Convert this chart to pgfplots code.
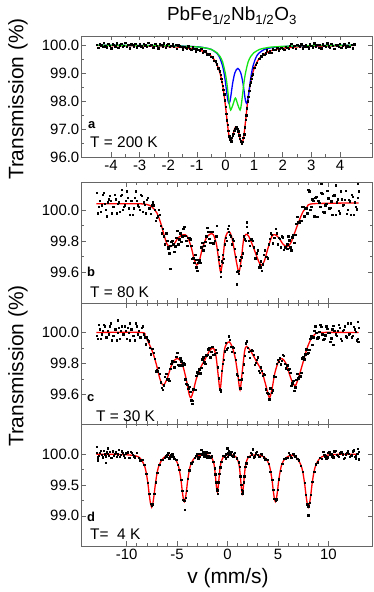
\documentclass[border=0pt]{standalone}
\usepackage{fontspec}
\setmainfont{Liberation Sans}
\usepackage{pgfplots}
\usepackage{pgfplotstable}
\pgfplotsset{compat=1.18}

\definecolor{framegray}{gray}{0.40}
\definecolor{fitred}{RGB}{255,0,0}
\definecolor{fitblue}{RGB}{0,0,255}
\definecolor{fitgreen}{RGB}{20,230,20}

\pgfplotstableread{
x y
-4.50 100.02
-4.45 99.91
-4.40 100.04
-4.35 100.00
-4.30 99.95
-4.25 100.08
-4.20 99.97
-4.15 99.93
-4.10 100.06
-4.05 99.99
-4.00 99.89
-3.95 100.03
-3.90 100.01
-3.85 99.96
-3.80 100.07
-3.75 99.92
-3.70 100.00
-3.65 100.05
-3.60 99.94
-3.55 99.98
-3.50 100.09
-3.45 99.95
-3.40 100.02
-3.35 99.90
-3.30 100.04
-3.25 100.01
-3.20 99.97
-3.15 100.06
-3.10 99.93
-3.05 99.99
-3.00 100.03
-2.95 99.96
-2.90 99.91
-2.85 100.05
-2.80 100.00
-2.75 99.94
-2.70 100.08
-2.65 99.98
-2.60 100.02
-2.55 99.92
-2.50 99.93
-2.45 100.06
-2.40 99.99
-2.35 99.89
-2.30 100.03
-2.25 100.01
-2.20 99.96
-2.15 100.07
-2.10 99.92
-2.05 100.00
-2.00 100.05
-1.95 99.94
-1.90 99.98
-1.85 100.03
-1.80 99.95
-1.75 100.02
-1.70 99.88
-1.65 100.00
-1.60 99.96
-1.55 99.95
-1.50 99.86
-1.45 99.955
-1.40 99.92
-1.35 99.87
-1.30 99.97
-1.25 99.88
-1.20 99.84
-1.15 99.93
-1.10 99.87
-1.05 99.78
-1.00 99.88
-0.95 99.85
-0.90 99.80
-0.85 99.87
-0.80 99.73
-0.75 99.78
-0.70 99.79
-0.65 99.68
-0.60 99.68
-0.55 99.70
-0.50 99.59
-0.45 99.57
-0.40 99.445
-0.35 99.435
-0.30 99.32
-0.25 99.18
-0.20 99.065
-0.175 98.95
-0.15 98.80
-0.125 98.69
-0.10 98.56
-0.075 98.40
-0.05 98.25
-0.025 98.03
0.00 97.795
0.025 97.55
0.05 97.31
0.075 97.16
0.10 96.94
0.125 96.75
0.15 96.63
0.175 96.60
0.20 96.565
0.225 96.68
0.25 96.785
0.275 96.83
0.30 96.945
0.325 97.02
0.35 97.085
0.375 97.06
0.40 97.025
0.425 96.99
0.45 96.925
0.475 96.78
0.50 96.65
0.525 96.57
0.55 96.545
0.575 96.49
0.60 96.555
0.625 96.69
0.65 96.81
0.675 97.06
0.70 97.325
0.725 97.49
0.75 97.75
0.775 97.99
0.80 98.16
0.825 98.37
0.85 98.57
0.875 98.67
0.90 98.80
0.925 98.91
0.95 98.96
1.00 99.19
1.05 99.31
1.10 99.385
1.15 99.52
1.20 99.515
1.25 99.605
1.30 99.676
1.35 99.66
1.40 99.71
1.45 99.82
1.50 99.73
1.55 99.81
1.60 99.73
1.65 99.86
1.70 99.85
1.75 99.83
1.80 99.91
1.85 99.82
1.90 99.875
1.95 99.91
2.00 99.87
2.05 99.83
2.10 99.95
2.15 99.91
2.20 99.87
2.25 99.99
2.30 100.06
2.35 99.92
2.40 99.99
2.45 99.87
2.50 100.01
2.55 99.98
2.60 99.94
2.65 100.03
2.70 99.90
2.75 99.96
2.80 100.02
2.85 99.95
2.90 99.90
2.95 100.04
3.00 99.99
3.05 99.93
3.10 100.07
3.15 99.97
3.20 100.01
3.25 99.91
3.30 100.01
3.35 99.90
3.40 100.03
3.45 99.99
3.50 99.94
3.55 100.07
3.60 99.96
3.65 99.92
3.70 100.05
3.75 99.98
3.80 99.88
3.85 100.02
3.90 100.00
3.95 99.95
4.00 100.06
4.05 99.91
4.10 99.99
4.15 100.04
4.20 99.93
4.25 99.97
4.30 100.08
4.35 99.94
4.40 100.01
4.45 99.89
4.50 100.03
}\dataA

\pgfplotstableread{
x y
-13.0 100.11
-12.8 100.02
-12.6 99.99
-12.4 100.10
-12.2 100.04
-12.0 99.96
-11.8 100.07
-11.6 100.06
-11.4 100.02
-11.2 100.10
-11.0 99.98
-10.8 100.05
-10.6 100.09
-10.5 100.13
-10.4 100.00
-10.2 100.03
-10.0 100.12
-9.8 100.01
-9.6 100.06
-9.4 99.97
-9.2 100.08
-9.0 100.06
-8.8 100.02
-8.6 100.10
-8.4 99.99
-8.2 100.035
-8.0 100.065
-7.8 100.01
-7.6 99.975
-7.4 100.05
-7.2 100.00
-7.0 99.95
-6.8 100.00
-6.6 99.90
-6.4 99.88
-6.2 99.78
-6.0 99.80
-5.9 99.76
-5.8 99.72
-5.7 99.62
-5.6 99.795
-5.4 99.78
-5.2 99.765
-5.0 99.865
-4.8 99.81
-4.6 99.795
-4.4 99.88
-4.2 99.835
-4.0 99.77
-3.8 99.82
-3.6 99.77
-3.4 99.69
-3.2 99.71
-3.1 99.63
-3.0 99.61
-2.8 99.675
-2.6 99.76
-2.4 99.74
-2.2 99.795
-2.0 99.885
-1.8 99.815
-1.6 99.86
-1.4 99.785
-1.2 99.83
-1.1 99.90
-1.0 99.745
-0.9 99.70
-0.8 99.64
-0.7 99.60
-0.6 99.67
-0.5 99.66
-0.4 99.685
-0.2 99.82
0.0 99.88
0.1 99.86
0.2 99.84
0.4 99.78
0.6 99.80
0.8 99.70
0.9 99.52
1.0 99.605
1.1 99.59
1.2 99.675
1.3 99.64
1.4 99.695
1.6 99.83
1.8 99.80
1.9 99.92
2.0 99.855
2.2 99.77
2.4 99.815
2.6 99.76
2.8 99.69
3.0 99.74
3.2 99.645
3.3 99.63
3.4 99.61
3.6 99.71
3.8 99.70
4.0 99.69
4.2 99.815
4.4 99.84
4.6 99.82
4.8 99.88
5.0 99.78
5.2 99.815
5.4 99.83
5.6 99.745
5.8 99.76
5.9 99.75
6.0 99.83
6.2 99.76
6.4 99.825
6.6 99.79
6.8 99.91
7.0 99.925
7.2 99.93
7.4 100.02
7.6 99.96
7.8 100.01
8.0 100.13
8.2 100.00
8.4 100.07
8.6 99.96
8.8 100.085
9.0 100.06
9.2 100.02
9.3 100.17
9.4 100.105
9.6 99.985
9.8 100.04
10.0 100.075
10.2 100.015
10.4 99.97
10.6 100.095
10.7 100.16
10.8 100.05
11.0 99.995
11.2 100.12
11.4 100.03
11.6 100.065
11.8 99.977
12.0 100.067
12.2 99.968
12.4 100.085
12.6 100.05
12.8 100.004
12.9 100.17
13.0 100.12
-12.9 99.98
-12.7 100.06
-12.5 100.03
-12.3 100.11
-12.1 100.00
-11.9 100.05
-11.7 100.09
-11.5 99.98
-11.3 100.02
-11.1 100.07
-10.9 100.04
-10.7 99.99
-10.5 100.10
-10.3 100.02
-10.1 100.06
-9.9 100.08
-9.7 99.97
-9.5 100.06
-9.3 100.01
-9.1 100.12
-8.9 100.03
-8.7 100.00
-8.5 100.09
-8.3 100.05
-8.1 99.98
-7.9 100.08
-7.7 100.01
-7.5 100.03
-7.3 100.03
-7.1 99.93
-6.9 99.96
-6.7 99.97
-6.5 99.85
-6.3 99.83
-6.1 99.85
-5.9 99.75
-5.7 99.77
-5.5 99.80
-5.3 99.73
-5.1 99.82
-4.9 99.78
-4.7 99.85
-4.5 99.83
-4.3 99.89
-4.1 99.80
-3.9 99.82
-3.7 99.81
-3.5 99.685
-3.3 99.66
-3.1 99.68
-2.9 99.66
-2.7 99.66
-2.5 99.79
-2.3 99.77
-2.1 99.83
-1.9 99.86
-1.7 99.79
-1.5 99.86
-1.3 99.80
-1.1 99.83
-0.9 99.68
-0.7 99.57
-0.5 99.71
-0.3 99.78
-0.1 99.80
0.1 99.90
0.3 99.83
0.5 99.81
0.7 99.75
0.9 99.60
1.1 99.61
1.3 99.70
1.5 99.72
1.7 99.81
1.9 99.89
2.1 99.80
2.3 99.81
2.5 99.80
2.7 99.69
2.9 99.72
3.1 99.63
3.3 99.67
3.5 99.65
3.7 99.74
3.9 99.70
4.1 99.78
4.3 99.85
4.5 99.785
4.7 99.82
4.9 99.85
5.1 99.82
5.3 99.76
5.5 99.825
5.7 99.76
5.9 99.78
6.1 99.805
6.3 99.74
6.5 99.84
6.7 99.84
6.9 99.955
7.1 99.92
7.3 99.93
7.5 100.02
7.7 100.01
7.9 99.98
8.1 100.12
8.3 100.02
8.5 100.06
8.7 100.08
8.9 99.955
9.1 100.045
9.3 100.11
9.5 99.99
9.7 100.03
9.9 100.125
10.1 100.01
10.3 100.055
10.5 100.09
10.7 99.97
10.9 100.07
11.1 99.98
11.3 100.07
11.5 100.035
11.7 100.125
11.9 100.00
12.1 100.055
12.3 100.10
12.5 99.97
12.7 100.02
12.9 100.08
}\dataB

\pgfplotstableread{
x y
-13.0 99.98
-12.8 100.05
-12.6 99.96
-12.4 100.01
-12.2 100.04
-12.0 99.97
-11.8 99.99
-11.6 100.06
-11.4 99.98
-11.2 100.02
-11.0 99.95
-10.9 100.08
-10.8 100.03
-10.6 100.01
-10.4 99.99
-10.2 100.04
-10.0 99.96
-9.8 100.00
-9.7 100.06
-9.6 100.02
-9.4 99.98
-9.2 99.95
-9.0 100.04
-8.8 100.01
-8.6 99.97
-8.4 100.04
-8.2 99.97
-8.0 99.97
-7.8 99.945
-7.6 99.86
-7.4 99.895
-7.2 99.83
-7.0 99.76
-6.8 99.772
-6.6 99.68
-6.4 99.633
-6.2 99.715
-6.0 99.70
-5.8 99.69
-5.6 99.80
-5.4 99.81
-5.2 99.81
-5.0 99.868
-4.8 99.79
-4.6 99.815
-4.4 99.805
-4.2 99.70
-4.0 99.662
-3.8 99.65
-3.6 99.563
-3.5 99.54
-3.4 99.635
-3.2 99.63
-3.0 99.745
-2.8 99.762
-2.6 99.772
-2.4 99.841
-2.2 99.80
-2.0 99.855
-1.8 99.90
-1.6 99.875
-1.4 99.858
-1.2 99.89
-1.0 99.775
-0.8 99.635
-0.7 99.62
-0.6 99.755
-0.4 99.825
-0.2 99.935
0.0 99.90
0.2 99.953
0.4 99.875
0.6 99.90
0.8 99.825
1.0 99.72
1.2 99.695
1.25 99.64
1.4 99.70
1.6 99.795
1.8 99.93
2.0 99.903
2.2 99.838
2.4 99.888
2.6 99.855
2.8 99.805
3.0 99.84
3.2 99.739
3.4 99.755
3.6 99.735
3.8 99.635
4.0 99.609
4.15 99.57
4.2 99.64
4.4 99.61
4.6 99.718
4.8 99.715
5.0 99.825
5.2 99.833
5.4 99.819
5.6 99.852
5.8 99.77
6.0 99.76
6.2 99.74
6.4 99.672
6.6 99.626
6.8 99.697
7.0 99.705
7.2 99.718
7.4 99.835
7.6 99.828
7.8 99.893
8.0 99.87
8.2 99.96
8.4 99.92
8.6 100.01
8.8 100.00
9.0 99.97
9.2 100.05
9.4 99.99
9.6 99.96
9.8 100.04
10.0 100.00
10.2 99.94
10.4 100.02
10.5 99.92
10.6 100.01
10.8 99.98
11.0 100.05
11.2 99.96
11.4 100.01
11.6 100.04
11.8 99.97
12.0 99.99
12.2 100.06
12.4 99.98
12.6 100.02
12.8 99.95
12.9 100.07
12.95 99.94
13.0 100.03
-12.9 99.96
-12.7 100.02
-12.5 99.99
-12.3 100.05
-12.1 99.97
-11.9 100.01
-11.7 100.04
-11.5 99.95
-11.3 99.98
-11.1 100.02
-10.9 100.00
-10.7 99.96
-10.5 100.04
-10.3 99.99
-10.1 100.01
-9.9 100.03
-9.7 99.95
-9.5 100.02
-9.3 99.98
-9.1 100.06
-8.9 99.99
-8.7 99.97
-8.5 100.03
-8.3 99.99
-8.1 99.925
-7.9 99.955
-7.7 99.90
-7.5 99.895
-7.3 99.868
-7.1 99.75
-6.9 99.75
-6.7 99.735
-6.5 99.645
-6.3 99.66
-6.1 99.735
-5.9 99.70
-5.7 99.765
-5.5 99.815
-5.3 99.775
-5.1 99.842
-4.9 99.793
-4.7 99.833
-4.5 99.788
-4.3 99.795
-4.1 99.671
-3.9 99.638
-3.7 99.62
-3.5 99.56
-3.3 99.633
-3.1 99.72
-2.9 99.736
-2.7 99.737
-2.5 99.829
-2.3 99.808
-2.1 99.853
-1.9 99.893
-1.7 99.84
-1.5 99.909
-1.3 99.86
-1.1 99.87
-0.9 99.705
-0.7 99.63
-0.5 99.80
-0.3 99.88
-0.1 99.893
0.1 99.977
0.3 99.91
0.5 99.905
0.7 99.87
0.9 99.73
1.1 99.695
1.3 99.695
1.5 99.74
1.7 99.85
1.9 99.945
2.1 99.875
2.3 99.883
2.5 99.882
2.7 99.793
2.9 99.825
3.1 99.752
3.3 99.777
3.5 99.723
3.7 99.728
3.9 99.612
4.1 99.605
4.3 99.64
4.5 99.627
4.7 99.715
4.9 99.80
5.1 99.812
5.3 99.796
5.5 99.858
5.7 99.798
5.9 99.79
6.1 99.765
6.3 99.658
6.5 99.691
6.7 99.646
6.9 99.733
7.1 99.715
7.3 99.742
7.5 99.84
7.7 99.86
7.9 99.865
8.1 99.89
8.3 99.975
8.5 99.97
8.7 100.04
8.9 99.964
9.1 100.006
9.3 100.036
9.5 99.952
9.7 99.982
9.9 100.024
10.1 100.00
10.3 99.964
10.5 100.042
10.7 99.988
10.9 100.012
11.1 100.03
11.3 99.946
11.5 100.018
11.7 99.976
11.9 100.06
12.1 99.994
12.3 99.97
12.5 100.036
12.7 100.006
12.9 99.958
}\dataC

\pgfplotstableread{
x y
-13.0 100.02
-13.0 100.12
-12.9 99.90
-12.8 99.98
-12.6 100.06
-12.4 99.95
-12.2 100.00
-12.1 99.86
-12.0 100.03
-11.9 100.10
-11.8 99.98
-11.6 99.94
-11.4 100.05
-11.2 100.01
-11.0 99.96
-10.8 100.07
-10.6 99.99
-10.4 100.02
-10.2 99.94
-10.0 100.02
-9.8 99.94
-9.6 100.04
-9.4 99.99
-9.2 99.95
-9.0 100.02
-8.8 99.945
-8.64 99.90
-8.45 99.915
-8.27 99.83
-8.08 99.686
-7.895 99.54
-7.77 99.36
-7.645 99.20
-7.52 99.165
-7.395 99.19
-7.27 99.358
-7.145 99.545
-6.96 99.70
-6.77 99.825
-6.58 99.91
-6.40 99.91
-6.2 99.94
-6.0 99.995
-5.8 99.935
-5.6 99.99
-5.4 99.96
-5.28 99.93
-5.10 99.91
-4.94 99.83
-4.78 99.746
-4.61 99.59
-4.50 99.41
-4.39 99.266
-4.28 99.25
-4.25 99.10
-4.17 99.293
-4.06 99.405
-3.95 99.60
-3.78 99.743
-3.62 99.855
-3.45 99.88
-3.28 99.947
-3.1 99.975
-2.9 99.935
-2.7 100.005
-2.6 100.07
-2.5 99.995
-2.3 99.97
-2.1 100.03
-1.9 99.97
-1.70 99.95
-1.595 99.97
-1.40 99.878
-1.30 99.774
-1.21 99.675
-1.14 99.548
-1.075 99.431
-1.01 99.41
-1.00 99.36
-0.945 99.421
-0.88 99.545
-0.81 99.68
-0.72 99.786
-0.62 99.875
-0.425 99.976
-0.30 99.96
-0.15 99.937
-0.05 100.10
0.05 100.015
0.10 100.06
0.25 100.00
0.45 99.975
0.62 99.999
0.885 99.934
1.08 99.872
1.18 99.80
1.27 99.64
1.34 99.50
1.405 99.426
1.47 99.363
1.535 99.40
1.60 99.543
1.67 99.645
1.76 99.797
1.86 99.854
2.055 99.957
2.20 99.955
2.4 100.00
2.5 100.08
2.6 99.948
2.8 100.015
3.0 99.995
3.2 99.96
3.40 99.999
3.58 99.949
3.75 99.92
3.92 99.911
4.09 99.846
4.25 99.716
4.42 99.588
4.53 99.426
4.64 99.281
4.75 99.254
4.86 99.269
4.97 99.423
5.08 99.594
5.25 99.731
5.41 99.843
5.58 99.93
5.75 99.938
5.95 99.94
6.15 99.99
6.35 99.94
6.55 100.00
6.75 99.965
6.90 99.925
7.08 99.90
7.27 99.81
7.46 99.716
7.645 99.539
7.77 99.346
7.895 99.186
8.00 99.01
8.02 99.158
8.145 99.213
8.27 99.34
8.395 99.554
8.58 99.713
8.77 99.837
8.95 99.869
9.14 99.94
9.35 99.93
9.6 99.99
9.8 99.93
10.0 100.02
10.2 100.00
10.4 99.97
10.6 100.05
10.8 99.99
11.0 99.96
11.2 100.04
11.4 100.00
11.6 99.94
11.8 100.02
12.0 100.01
12.2 99.98
12.4 100.05
12.6 99.96
12.7 99.93
12.8 100.01
12.9 100.09
13.0 100.04
13.0 99.92
-12.9 99.95
-12.7 100.02
-12.5 99.99
-12.3 100.06
-12.1 99.965
-11.9 100.01
-11.7 100.04
-11.5 99.945
-11.3 99.98
-11.1 100.03
-10.9 100.00
-10.7 99.96
-10.5 100.05
-10.3 99.985
-10.1 100.015
-9.9 100.035
-9.7 99.94
-9.5 100.02
-9.3 99.97
-6.1 99.97
-5.9 100.02
-5.7 99.96
-5.5 100.00
-3.0 100.01
-2.8 99.96
-2.4 100.03
-2.2 99.99
-2.0 99.95
-1.8 100.02
-0.2 100.00
0.0 99.96
0.15 99.99
0.35 100.04
0.55 99.96
0.7 100.02
2.3 100.02
2.7 99.97
2.9 100.04
3.1 99.96
3.3 100.01
6.05 100.02
6.25 99.95
6.45 100.01
6.65 99.96
9.5 100.04
9.7 99.97
9.9 99.95
10.1 100.03
10.3 100.00
10.5 99.95
10.7 100.055
10.9 99.98
11.1 100.015
11.3 100.03
11.5 99.93
11.7 100.00
11.9 100.05
12.1 99.96
12.3 99.985
12.5 100.065
12.7 99.97
12.9 100.01
}\dataD

\pgfplotsset{
  moss/.style={
    scale only axis, width=291bp, anchor=south west,
    axis line style={framegray, line width=0.8bp},
    every tick/.style={framegray, line width=0.6bp},
    tick align=inside, major tick length=4.5bp, minor tick length=2.5bp,
    tick label style={font=\fontsize{15}{15}\selectfont, text=black},
    /pgf/number format/assume math mode=true,
    yticklabel style={inner xsep=1.5bp,
      /pgf/number format/fixed, /pgf/number format/fixed zerofill,
      /pgf/number format/precision=1},
    xticklabel style={inner ysep=3bp},
    minor y tick num=1,
  },
  pts/.style={only marks, mark=square*, mark size=0.7bp, black},
  fit/.style={line width=1.3bp, smooth, tension=0.5},
}

\begin{document}
\begin{tikzpicture}
% panel a
\begin{axis}[moss, at={(81bp,435bp)}, height=121bp,
  xmin=-5.05, xmax=5.12, ymin=96, ymax=100.33,
  xtick={-4,-3,-2,-1,0,1,2,3,4}, minor x tick num=1,
  ytick={96,97,98,99,100}]
\addplot[pts] table {\dataA};
\addplot[fit, fitred] coordinates {(-4.5,99.99) (-3,99.976) (-2,99.95) (-1.5,99.92) (-1,99.85) (-0.8,99.789) (-0.6,99.687) (-0.5,99.606) (-0.4,99.49) (-0.3,99.31) (-0.25,99.188) (-0.2,99.03) (-0.15,98.826) (-0.1,98.56) (-0.05,98.23) (0,97.81) (0.05,97.35) (0.1,96.91) (0.15,96.626) (0.2,96.59) (0.25,96.74) (0.3,96.95) (0.35,97.07) (0.4,97.06) (0.45,96.91) (0.5,96.69) (0.55,96.52) (0.6,96.55) (0.65,96.83) (0.7,97.28) (0.75,97.76) (0.8,98.19) (0.85,98.53) (0.9,98.80) (0.95,99.01) (1.0,99.17) (1.1,99.40) (1.2,99.55) (1.3,99.646) (1.4,99.715) (1.6,99.805) (1.8,99.858) (2,99.89) (2.5,99.94) (3,99.96) (4.5,99.99)};
\addplot[fit, fitblue] coordinates {(-4.5,100) (-2,99.98) (-1,99.945) (-0.7,99.90) (-0.5,99.85) (-0.3,99.71) (-0.2,99.55) (-0.1,99.25) (-0.05,99.00) (0,98.66) (0.05,98.25) (0.085,98.02) (0.12,97.92) (0.155,97.99) (0.19,98.20) (0.25,98.64) (0.33,99.02) (0.43,99.17) (0.53,99.02) (0.61,98.64) (0.67,98.20) (0.705,97.99) (0.74,97.92) (0.775,98.02) (0.81,98.25) (0.86,98.66) (0.91,99.00) (0.96,99.25) (1.06,99.55) (1.16,99.71) (1.36,99.85) (1.56,99.90) (1.86,99.945) (2.86,99.98) (4.5,100)};
\addplot[fit, fitgreen] coordinates {(-4.5,100) (-2,99.98) (-1,99.94) (-0.7,99.90) (-0.5,99.85) (-0.3,99.73) (-0.2,99.61) (-0.1,99.40) (0,98.96) (0.05,98.62) (0.1,98.18) (0.14,97.86) (0.18,97.68) (0.26,97.87) (0.345,98.11) (0.43,97.87) (0.51,97.68) (0.55,97.86) (0.59,98.18) (0.64,98.62) (0.69,98.96) (0.79,99.40) (0.89,99.61) (0.99,99.73) (1.19,99.85) (1.39,99.90) (1.69,99.94) (2.69,99.98) (4.5,100)};
\end{axis}
% panel b
\begin{axis}[moss, at={(81bp,289bp)}, height=121bp,
  xmin=-14.53, xmax=14.33, ymin=99.40, ymax=100.18,
  xtick={-10,-5,0,5,10}, xticklabels={}, minor x tick num=4,
  ytick={99.6,99.8,100}]
\addplot[pts] table {\dataB};
\addplot[fit, fitred] coordinates {(-13,100.04) (-9,100.04) (-8,100.035) (-7.5,100.02) (-7,99.98) (-6.6,99.91) (-6.3,99.84) (-6.0,99.78) (-5.7,99.763) (-5.3,99.78) (-4.9,99.82) (-4.4,99.84) (-4.0,99.83) (-3.6,99.76) (-3.3,99.68) (-3.06,99.645) (-2.8,99.67) (-2.5,99.75) (-2.1,99.82) (-1.7,99.845) (-1.4,99.84) (-1.1,99.78) (-0.9,99.69) (-0.68,99.60) (-0.45,99.69) (-0.25,99.81) (0.0,99.855) (0.18,99.86) (0.4,99.83) (0.65,99.75) (0.9,99.66) (1.14,99.60) (1.38,99.69) (1.6,99.81) (1.84,99.843) (2.1,99.83) (2.5,99.77) (2.9,99.70) (3.15,99.66) (3.39,99.645) (3.65,99.67) (4.0,99.75) (4.4,99.83) (4.71,99.84) (5.1,99.82) (5.5,99.78) (5.93,99.763) (6.3,99.79) (6.7,99.86) (7.1,99.93) (7.5,99.99) (7.9,100.02) (8.5,100.04) (13,100.045)};
\end{axis}
% panel c
\begin{axis}[moss, at={(81bp,168bp)}, height=121bp,
  xmin=-14.53, xmax=14.33, ymin=99.41, ymax=100.19,
  xtick={-10,-5,0,5,10}, xticklabels={}, minor x tick num=4,
  ytick={99.6,99.8,100}]
\addplot[pts] table {\dataC};
\addplot[fit, fitred] coordinates {(-13,100.0) (-8.6,100.0) (-8.2,99.98) (-7.8,99.93) (-7.4,99.87) (-7.0,99.78) (-6.7,99.70) (-6.37,99.66) (-6.0,99.70) (-5.6,99.78) (-5.2,99.825) (-4.88,99.83) (-4.5,99.80) (-4.1,99.70) (-3.8,99.60) (-3.62,99.58) (-3.4,99.62) (-3.1,99.70) (-2.7,99.77) (-2.2,99.83) (-1.8,99.88) (-1.41,99.90) (-1.15,99.85) (-0.95,99.74) (-0.74,99.63) (-0.55,99.74) (-0.3,99.89) (0.0,99.935) (0.18,99.94) (0.45,99.91) (0.75,99.84) (1.0,99.74) (1.24,99.63) (1.45,99.74) (1.7,99.88) (1.9,99.91) (2.3,99.88) (2.9,99.81) (3.4,99.75) (3.8,99.66) (4.15,99.58) (4.4,99.63) (4.7,99.74) (5.1,99.82) (5.44,99.83) (5.8,99.80) (6.2,99.72) (6.5,99.67) (6.76,99.66) (7.1,99.72) (7.5,99.81) (7.9,99.90) (8.3,99.96) (8.7,99.99) (9.2,100.0) (13,100.0)};
\end{axis}
% panel d
\begin{axis}[moss, at={(81bp,46bp)}, height=122bp,
  xmin=-14.53, xmax=14.33, ymin=98.51, ymax=100.49,
  xtick={-10,-5,0,5,10}, minor x tick num=4,
  ytick={99,99.5,100}]
\addplot[pts] table {\dataD};
\addplot[fit, fitred] coordinates {(-13,100.0) (-10.5,99.995) (-9.12,99.974) (-8.64,99.931) (-8.27,99.828) (-8.08,99.716) (-7.895,99.527) (-7.77,99.355) (-7.645,99.21) (-7.52,99.14) (-7.395,99.21) (-7.27,99.355) (-7.145,99.527) (-6.96,99.716) (-6.77,99.828) (-6.40,99.931) (-5.9,99.985) (-5.28,99.938) (-4.94,99.846) (-4.78,99.746) (-4.61,99.576) (-4.50,99.42) (-4.39,99.29) (-4.28,99.23) (-4.17,99.29) (-4.06,99.42) (-3.95,99.576) (-3.78,99.746) (-3.62,99.846) (-3.28,99.938) (-2.85,99.977) (-2.4,99.99) (-1.86,99.982) (-1.595,99.951) (-1.40,99.878) (-1.30,99.799) (-1.21,99.6645) (-1.14,99.5425) (-1.075,99.439) (-1.01,99.39) (-0.945,99.439) (-0.88,99.5425) (-0.81,99.6645) (-0.72,99.799) (-0.62,99.878) (-0.425,99.951) (-0.16,99.982) (0.23,99.99) (0.62,99.981) (0.885,99.949) (1.08,99.872) (1.18,99.789) (1.27,99.648) (1.34,99.52) (1.405,99.411) (1.47,99.36) (1.535,99.411) (1.60,99.52) (1.67,99.648) (1.76,99.789) (1.86,99.872) (2.055,99.949) (2.32,99.981) (3.0,99.99) (3.32,99.977) (3.75,99.938) (4.09,99.846) (4.25,99.746) (4.42,99.576) (4.53,99.42) (4.64,99.29) (4.75,99.23) (4.86,99.29) (4.97,99.42) (5.08,99.576) (5.25,99.746) (5.41,99.846) (5.75,99.938) (6.4,99.985) (6.90,99.931) (7.27,99.828) (7.46,99.716) (7.645,99.527) (7.77,99.355) (7.895,99.21) (8.02,99.14) (8.145,99.21) (8.27,99.355) (8.395,99.527) (8.58,99.716) (8.77,99.828) (9.14,99.931) (9.62,99.974) (10.5,99.995) (13,100.0)};
\end{axis}
% titles, labels, panel tags
\node[anchor=base, inner sep=0] at (232bp,571bp) {\fontsize{19}{19}\selectfont PbFe\textsubscript{1/2}Nb\textsubscript{1/2}O\textsubscript{3}};
\node[rotate=90, inner sep=0] at (18bp,493bp) {\fontsize{21}{21}\selectfont Transmission (\%)};
\node[rotate=90, inner sep=0] at (18bp,226bp) {\fontsize{21}{21}\selectfont Transmission (\%)};
\node[anchor=base, inner sep=0] at (228bp,9bp) {\fontsize{21}{21}\selectfont v (mm/s)};
\node[anchor=base west, inner sep=0] at (88bp,463.7bp) {\fontsize{13}{13}\selectfont\bfseries a};
\node[anchor=base west, inner sep=0] at (90bp,444bp) {\fontsize{15.5}{15.5}\selectfont T = 200 K};
\node[anchor=base west, inner sep=0] at (87bp,315bp) {\fontsize{13}{13}\selectfont\bfseries b};
\node[anchor=base west, inner sep=0] at (90bp,294bp) {\fontsize{15.5}{15.5}\selectfont T = 80 K};
\node[anchor=base west, inner sep=0] at (87bp,190bp) {\fontsize{13}{13}\selectfont\bfseries c};
\node[anchor=base west, inner sep=0] at (96bp,170bp) {\fontsize{15.5}{15.5}\selectfont T = 30 K};
\node[anchor=base west, inner sep=0] at (87bp,70bp) {\fontsize{13}{13}\selectfont\bfseries d};
\node[anchor=base west, inner sep=0] at (90bp,52bp) {\fontsize{15.5}{15.5}\selectfont T=\ \ 4 K};
\pgfresetboundingbox
\path[use as bounding box] (0,0) rectangle (374bp,592bp);
\end{tikzpicture}
\end{document}
